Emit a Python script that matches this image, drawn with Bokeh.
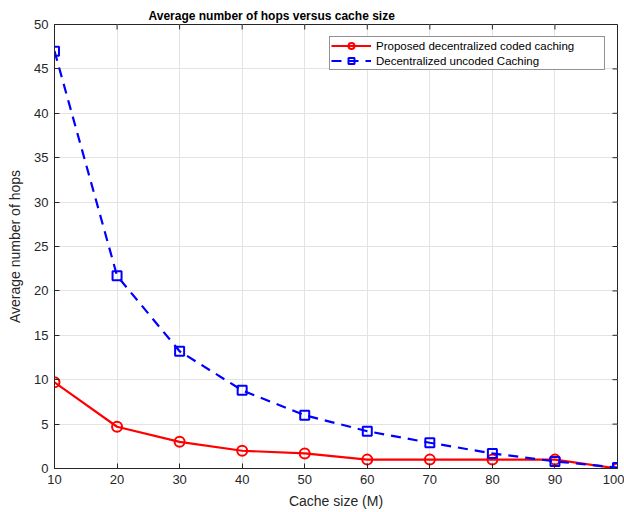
from bokeh.plotting import figure
from bokeh.models import Range1d, Legend, LegendItem, FixedTicker
from bokeh.embed import file_html
from bokeh.resources import INLINE

cache_size = [10, 20, 30, 40, 50, 60, 70, 80, 90, 100]
coded = [9.7, 4.7, 3.0, 2.0, 1.7, 1.0, 1.0, 1.0, 1.0, 0.0]
uncoded = [47.0, 21.7, 13.2, 8.8, 6.0, 4.2, 2.9, 1.7, 0.8, 0.1]
x_ticks = [10, 20, 30, 40, 50, 60, 70, 80, 90, 100]
y_ticks = [0, 5, 10, 15, 20, 25, 30, 35, 40, 45, 50]

FONT = "Liberation Sans"
AX = "#262626"
X0, X1, Y0, Y1 = 10, 100, 0, 50

p = figure(width=624, height=512, output_backend="svg", toolbar_location=None,
           x_range=Range1d(X0, X1), y_range=Range1d(Y0, Y1),
           min_border_left=54, min_border_right=7, min_border_top=24, min_border_bottom=44,
           title="Average number of hops versus cache size")
p.title.text_font = FONT
p.title.text_font_size = "12px"
p.title.text_font_style = "bold"
p.title.align = "left"
p.title.vertical_align = "top"
p.title.text_color = "black"
p.title.offset = 94
p.title.standoff = 0

p.outline_line_color = AX
p.outline_line_width = 1
p.background_fill_color = "white"
p.border_fill_color = "white"

for ax in p.xaxis + p.yaxis:
    ax.major_label_text_font = FONT
    ax.major_label_text_font_size = "13px"
    ax.major_label_text_color = AX
    ax.axis_label_text_font = FONT
    ax.axis_label_text_font_size = "14px"
    ax.axis_label_text_font_style = "normal"
    ax.axis_label_text_color = AX
    ax.axis_line_color = AX
    ax.major_tick_line_color = AX
    ax.major_tick_in = 5
    ax.major_tick_out = 0
    ax.minor_tick_line_color = None

p.xaxis.ticker = FixedTicker(ticks=x_ticks)
p.yaxis.ticker = FixedTicker(ticks=y_ticks)
p.xaxis.axis_label = "Cache size (M)"
p.yaxis.axis_label = "Average number of hops"
p.xaxis.major_label_standoff = 6
p.yaxis.major_label_standoff = 6
p.xaxis.axis_label_standoff = 6
p.yaxis.axis_label_standoff = 8

p.xgrid.ticker = FixedTicker(ticks=x_ticks)
p.ygrid.ticker = FixedTicker(ticks=y_ticks)
p.grid.grid_line_color = "#e3e3e3"
p.grid.grid_line_width = 1

# mirrored inward ticks on the top and right edges of the box
tx = (X1 - X0) / 563 * 5
ty = (Y1 - Y0) / 444 * 5
p.segment(x0=x_ticks, y0=[Y1] * len(x_ticks), x1=x_ticks, y1=[Y1 - ty] * len(x_ticks),
          line_color=AX, line_width=1)
p.segment(x0=[X1] * len(y_ticks), y0=y_ticks, x1=[X1 - tx] * len(y_ticks), y1=y_ticks,
          line_color=AX, line_width=1)

r1 = p.line(cache_size, coded, line_color="#ff0000", line_width=2.2)
r1m = p.scatter(cache_size, coded, marker="circle", size=10, line_color="#ff0000",
                line_width=2, fill_color=None)
r2 = p.line(cache_size, uncoded, line_color="#0000ff", line_width=2.2, line_dash="10 7")
r2m = p.scatter(cache_size, uncoded, marker="square", size=9, line_color="#0000ff",
                line_width=2, fill_color=None)

legend = Legend(items=[
    LegendItem(label="Proposed decentralized coded caching", renderers=[r1, r1m]),
    LegendItem(label="Decentralized uncoded Caching", renderers=[r2, r2m]),
], location="top_right")
legend.label_text_font = FONT
legend.label_text_font_size = "11.5px"
legend.label_text_color = "black"
legend.border_line_color = AX
legend.border_line_width = 1
legend.margin = 12
legend.padding = 1
legend.spacing = 0
legend.glyph_width = 40
legend.glyph_height = 15
legend.label_height = 15
legend.label_width = 227
legend.label_standoff = 5
p.add_layout(legend)

open("out.html", "w").write(file_html(p, INLINE))
